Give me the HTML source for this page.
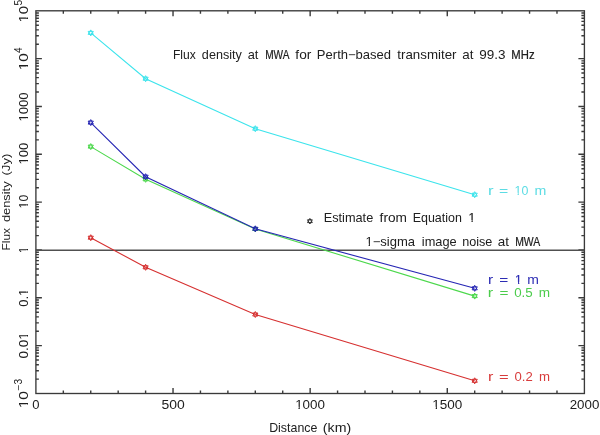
<!DOCTYPE html><html><head><meta charset="utf-8"><style>html,body{margin:0;padding:0;background:#fff;}svg{display:block;will-change:transform;}text{font-family:"Liberation Sans",sans-serif;}</style></head><body>
<svg width="600" height="435" viewBox="0 0 600 435">
<defs><clipPath id="c_e3" clipPathUnits="userSpaceOnUse"><path clip-rule="evenodd" d="M-2000 -2000H3000V3000H-2000ZM468.22 220.00H471.53V223.50H468.22ZM472.72 220.00H475.49V223.50H472.72Z"/></clipPath><clipPath id="c_s0" clipPathUnits="userSpaceOnUse"><path clip-rule="evenodd" d="M-2000 -2000H3000V3000H-2000ZM365.11 243.60H368.65V247.10H365.11ZM369.93 243.60H372.88V247.10H369.93Z"/></clipPath><clipPath id="c_lc2" clipPathUnits="userSpaceOnUse"><path clip-rule="evenodd" d="M-2000 -2000H3000V3000H-2000ZM514.24 192.80H517.61V196.30H514.24ZM518.82 192.80H521.64V196.30H518.82Z"/></clipPath><clipPath id="c_lb2" clipPathUnits="userSpaceOnUse"><path clip-rule="evenodd" d="M-2000 -2000H3000V3000H-2000ZM514.81 281.80H518.07V285.30H514.81ZM519.25 281.80H521.97V285.30H519.25Z"/></clipPath><clipPath id="c_x2" clipPathUnits="userSpaceOnUse"><path clip-rule="evenodd" d="M-2000 -2000H3000V3000H-2000ZM294.83 406.70H298.47V410.20H294.83ZM299.79 406.70H302.83V410.20H299.79Z"/></clipPath><clipPath id="c_x3" clipPathUnits="userSpaceOnUse"><path clip-rule="evenodd" d="M-2000 -2000H3000V3000H-2000ZM432.04 406.70H435.70V410.20H432.04ZM437.03 406.70H440.09V410.20H437.03Z"/></clipPath><clipPath id="c_yl0" clipPathUnits="userSpaceOnUse"><path clip-rule="evenodd" d="M-2000 -2000H3000V3000H-2000ZM-0.36 -2.00H3.68V1.50H-0.36ZM5.15 -2.00H8.53V1.50H5.15Z"/></clipPath><clipPath id="c_yl1" clipPathUnits="userSpaceOnUse"><path clip-rule="evenodd" d="M-2000 -2000H3000V3000H-2000ZM-0.38 -2.00H3.80V1.50H-0.38ZM5.32 -2.00H8.81V1.50H5.32Z"/></clipPath><clipPath id="c_yl2" clipPathUnits="userSpaceOnUse"><path clip-rule="evenodd" d="M-2000 -2000H3000V3000H-2000ZM-0.32 -2.00H3.23V1.50H-0.32ZM4.52 -2.00H7.48V1.50H4.52Z"/></clipPath><clipPath id="c_yl3" clipPathUnits="userSpaceOnUse"><path clip-rule="evenodd" d="M-2000 -2000H3000V3000H-2000ZM-0.32 -2.00H3.23V1.50H-0.32ZM4.52 -2.00H7.48V1.50H4.52Z"/></clipPath><clipPath id="c_yl4" clipPathUnits="userSpaceOnUse"><path clip-rule="evenodd" d="M-2000 -2000H3000V3000H-2000ZM-0.30 -2.00H3.05V1.50H-0.30ZM4.26 -2.00H7.06V1.50H4.26Z"/></clipPath><clipPath id="c_yl5" clipPathUnits="userSpaceOnUse"><path clip-rule="evenodd" d="M-2000 -2000H3000V3000H-2000ZM-0.29 -2.00H2.97V1.50H-0.29ZM4.15 -2.00H6.87V1.50H4.15Z"/></clipPath><clipPath id="c_yl6" clipPathUnits="userSpaceOnUse"><path clip-rule="evenodd" d="M-2000 -2000H3000V3000H-2000ZM10.53 -2.00H14.06V1.50H10.53ZM15.34 -2.00H18.30V1.50H15.34Z"/></clipPath><clipPath id="c_yl7" clipPathUnits="userSpaceOnUse"><path clip-rule="evenodd" d="M-2000 -2000H3000V3000H-2000ZM18.35 -2.00H22.00V1.50H18.35ZM23.32 -2.00H26.37V1.50H23.32Z"/></clipPath><clipPath id="c_yl8" clipPathUnits="userSpaceOnUse"><path clip-rule="evenodd" d="M-2000 -2000H3000V3000H-2000ZM-0.38 -2.00H3.84V1.50H-0.38ZM5.37 -2.00H8.91V1.50H5.37Z"/></clipPath></defs><rect width="600" height="435" fill="#fff"/>
<path d="M63.33 393.50v-3.0M63.33 10.80v3.0M90.75 393.50v-3.0M90.75 10.80v3.0M118.18 393.50v-3.0M118.18 10.80v3.0M145.60 393.50v-3.0M145.60 10.80v3.0M173.03 393.50v-5.5M173.03 10.80v5.5M200.45 393.50v-3.0M200.45 10.80v3.0M227.88 393.50v-3.0M227.88 10.80v3.0M255.30 393.50v-3.0M255.30 10.80v3.0M282.72 393.50v-3.0M282.72 10.80v3.0M310.15 393.50v-5.5M310.15 10.80v5.5M337.57 393.50v-3.0M337.57 10.80v3.0M365.00 393.50v-3.0M365.00 10.80v3.0M392.42 393.50v-3.0M392.42 10.80v3.0M419.85 393.50v-3.0M419.85 10.80v3.0M447.27 393.50v-5.5M447.27 10.80v5.5M474.70 393.50v-3.0M474.70 10.80v3.0M502.12 393.50v-3.0M502.12 10.80v3.0M529.55 393.50v-3.0M529.55 10.80v3.0M556.98 393.50v-3.0M556.98 10.80v3.0M35.90 379.10h3.0M584.40 379.10h-3.0M35.90 370.68h3.0M584.40 370.68h-3.0M35.90 364.70h3.0M584.40 364.70h-3.0M35.90 360.06h3.0M584.40 360.06h-3.0M35.90 356.28h3.0M584.40 356.28h-3.0M35.90 353.07h3.0M584.40 353.07h-3.0M35.90 350.30h3.0M584.40 350.30h-3.0M35.90 347.85h3.0M584.40 347.85h-3.0M35.90 345.66h6.0M584.40 345.66h-6.0M35.90 331.26h3.0M584.40 331.26h-3.0M35.90 322.84h3.0M584.40 322.84h-3.0M35.90 316.86h3.0M584.40 316.86h-3.0M35.90 312.23h3.0M584.40 312.23h-3.0M35.90 308.44h3.0M584.40 308.44h-3.0M35.90 305.24h3.0M584.40 305.24h-3.0M35.90 302.46h3.0M584.40 302.46h-3.0M35.90 300.01h3.0M584.40 300.01h-3.0M35.90 297.82h6.0M584.40 297.82h-6.0M35.90 283.42h3.0M584.40 283.42h-3.0M35.90 275.00h3.0M584.40 275.00h-3.0M35.90 269.02h3.0M584.40 269.02h-3.0M35.90 264.39h3.0M584.40 264.39h-3.0M35.90 260.60h3.0M584.40 260.60h-3.0M35.90 257.40h3.0M584.40 257.40h-3.0M35.90 254.62h3.0M584.40 254.62h-3.0M35.90 252.18h3.0M584.40 252.18h-3.0M35.90 249.99h6.0M584.40 249.99h-6.0M35.90 235.59h3.0M584.40 235.59h-3.0M35.90 227.16h3.0M584.40 227.16h-3.0M35.90 221.19h3.0M584.40 221.19h-3.0M35.90 216.55h3.0M584.40 216.55h-3.0M35.90 212.76h3.0M584.40 212.76h-3.0M35.90 209.56h3.0M584.40 209.56h-3.0M35.90 206.79h3.0M584.40 206.79h-3.0M35.90 204.34h3.0M584.40 204.34h-3.0M35.90 202.15h6.0M584.40 202.15h-6.0M35.90 187.75h3.0M584.40 187.75h-3.0M35.90 179.33h3.0M584.40 179.33h-3.0M35.90 173.35h3.0M584.40 173.35h-3.0M35.90 168.71h3.0M584.40 168.71h-3.0M35.90 164.93h3.0M584.40 164.93h-3.0M35.90 161.72h3.0M584.40 161.72h-3.0M35.90 158.95h3.0M584.40 158.95h-3.0M35.90 156.50h3.0M584.40 156.50h-3.0M35.90 154.31h6.0M584.40 154.31h-6.0M35.90 139.91h3.0M584.40 139.91h-3.0M35.90 131.49h3.0M584.40 131.49h-3.0M35.90 125.51h3.0M584.40 125.51h-3.0M35.90 120.88h3.0M584.40 120.88h-3.0M35.90 117.09h3.0M584.40 117.09h-3.0M35.90 113.89h3.0M584.40 113.89h-3.0M35.90 111.11h3.0M584.40 111.11h-3.0M35.90 108.66h3.0M584.40 108.66h-3.0M35.90 106.48h6.0M584.40 106.48h-6.0M35.90 92.07h3.0M584.40 92.07h-3.0M35.90 83.65h3.0M584.40 83.65h-3.0M35.90 77.67h3.0M584.40 77.67h-3.0M35.90 73.04h3.0M584.40 73.04h-3.0M35.90 69.25h3.0M584.40 69.25h-3.0M35.90 66.05h3.0M584.40 66.05h-3.0M35.90 63.27h3.0M584.40 63.27h-3.0M35.90 60.83h3.0M584.40 60.83h-3.0M35.90 58.64h6.0M584.40 58.64h-6.0M35.90 44.24h3.0M584.40 44.24h-3.0M35.90 35.81h3.0M584.40 35.81h-3.0M35.90 29.84h3.0M584.40 29.84h-3.0M35.90 25.20h3.0M584.40 25.20h-3.0M35.90 21.41h3.0M584.40 21.41h-3.0M35.90 18.21h3.0M584.40 18.21h-3.0M35.90 15.44h3.0M584.40 15.44h-3.0M35.90 12.99h3.0M584.40 12.99h-3.0" stroke="#3a3a3a" stroke-width="1.4" fill="none"/>
<rect x="35.9" y="10.8" width="548.50" height="382.70" stroke="#3a3a3a" stroke-width="1.35" fill="none"/>
<path d="M35.9 250.35H584.4" stroke="#505050" stroke-width="1.5"/>
<polyline points="90.75,32.90 145.60,78.70 255.30,128.70 474.70,194.70" stroke="#3ce4ec" stroke-width="1.1" fill="none"/>
<g stroke="#3ce4ec" stroke-width="1" fill="none"><polygon points="90.75,29.90 93.35,34.40 88.15,34.40"/><polygon points="90.75,35.90 88.15,31.40 93.35,31.40"/><polygon points="145.60,75.70 148.20,80.20 143.00,80.20"/><polygon points="145.60,81.70 143.00,77.20 148.20,77.20"/><polygon points="255.30,125.70 257.90,130.20 252.70,130.20"/><polygon points="255.30,131.70 252.70,127.20 257.90,127.20"/><polygon points="474.70,191.70 477.30,196.20 472.10,196.20"/><polygon points="474.70,197.70 472.10,193.20 477.30,193.20"/></g>
<polyline points="90.75,146.60 145.60,179.30 255.30,229.00 474.70,296.10" stroke="#4cd84c" stroke-width="1.1" fill="none"/>
<g stroke="#4cd84c" stroke-width="1" fill="none"><polygon points="90.75,143.60 93.35,148.10 88.15,148.10"/><polygon points="90.75,149.60 88.15,145.10 93.35,145.10"/><polygon points="145.60,176.30 148.20,180.80 143.00,180.80"/><polygon points="145.60,182.30 143.00,177.80 148.20,177.80"/><polygon points="255.30,226.00 257.90,230.50 252.70,230.50"/><polygon points="255.30,232.00 252.70,227.50 257.90,227.50"/><polygon points="474.70,293.10 477.30,297.60 472.10,297.60"/><polygon points="474.70,299.10 472.10,294.60 477.30,294.60"/></g>
<polyline points="90.75,122.60 145.60,176.70 255.30,228.80 474.70,288.30" stroke="#2626b4" stroke-width="1.1" fill="none"/>
<g stroke="#2626b4" stroke-width="1" fill="none"><polygon points="90.75,119.60 93.35,124.10 88.15,124.10"/><polygon points="90.75,125.60 88.15,121.10 93.35,121.10"/><polygon points="145.60,173.70 148.20,178.20 143.00,178.20"/><polygon points="145.60,179.70 143.00,175.20 148.20,175.20"/><polygon points="255.30,225.80 257.90,230.30 252.70,230.30"/><polygon points="255.30,231.80 252.70,227.30 257.90,227.30"/><polygon points="474.70,285.30 477.30,289.80 472.10,289.80"/><polygon points="474.70,291.30 472.10,286.80 477.30,286.80"/></g>
<polyline points="90.75,237.70 145.60,267.30 255.30,314.50 474.70,380.80" stroke="#d63030" stroke-width="1.1" fill="none"/>
<g stroke="#d63030" stroke-width="1" fill="none"><polygon points="90.75,234.70 93.35,239.20 88.15,239.20"/><polygon points="90.75,240.70 88.15,236.20 93.35,236.20"/><polygon points="145.60,264.30 148.20,268.80 143.00,268.80"/><polygon points="145.60,270.30 143.00,265.80 148.20,265.80"/><polygon points="255.30,311.50 257.90,316.00 252.70,316.00"/><polygon points="255.30,317.50 252.70,313.00 257.90,313.00"/><polygon points="474.70,377.80 477.30,382.30 472.10,382.30"/><polygon points="474.70,383.80 472.10,379.30 477.30,379.30"/></g>
<g stroke="#333" stroke-width="1" fill="none"><polygon points="309.90,218.40 312.32,222.60 307.48,222.60"/><polygon points="309.90,224.00 307.48,219.80 312.32,219.80"/></g>
<text id="w_t0" x="172.90" y="59.2" font-size="12.2" fill="#202020" textLength="22.81" lengthAdjust="spacingAndGlyphs">Flux</text>
<text id="w_t1" x="201.89" y="59.2" font-size="12.2" fill="#202020" textLength="39.95" lengthAdjust="spacingAndGlyphs">density</text>
<text id="w_t2" x="247.70" y="59.2" font-size="12.2" fill="#202020" textLength="10.69" lengthAdjust="spacingAndGlyphs">at</text>
<text id="w_t3" x="265.18" y="59.2" font-size="12.2" fill="#202020" stroke="#202020" stroke-width="0.2" textLength="24.25" lengthAdjust="spacingAndGlyphs">MWA</text>
<text id="w_t4" x="295.39" y="59.2" font-size="12.2" fill="#202020" textLength="15.98" lengthAdjust="spacingAndGlyphs">for</text>
<text id="w_t5" x="316.89" y="59.2" font-size="12.2" fill="#202020" textLength="74.24" lengthAdjust="spacingAndGlyphs">Perth−based</text>
<text id="w_t6" x="397.34" y="59.2" font-size="12.2" fill="#202020" textLength="59.16" lengthAdjust="spacingAndGlyphs">transmiter</text>
<text id="w_t7" x="462.29" y="59.2" font-size="12.2" fill="#202020" textLength="11.18" lengthAdjust="spacingAndGlyphs">at</text>
<text id="w_t8" x="479.31" y="59.2" font-size="12.2" fill="#202020" textLength="26.27" lengthAdjust="spacingAndGlyphs">99.3</text>
<text id="w_t9" x="511.30" y="59.2" font-size="12.2" fill="#202020" stroke="#202020" stroke-width="0.2" textLength="23.26" lengthAdjust="spacingAndGlyphs">MHz</text>
<text id="w_e0" x="323.69" y="222.0" font-size="12.2" fill="#202020" textLength="49.55" lengthAdjust="spacingAndGlyphs">Estimate</text>
<text id="w_e1" x="379.59" y="222.0" font-size="12.2" fill="#202020" textLength="27.36" lengthAdjust="spacingAndGlyphs">from</text>
<text id="w_e2" x="412.73" y="222.0" font-size="12.2" fill="#202020" textLength="49.17" lengthAdjust="spacingAndGlyphs">Equation</text>
<text id="w_e3" clip-path="url(#c_e3)" x="468.52" y="222.0" font-size="12.2" fill="#202020" stroke="#202020" stroke-width="0.2">1</text>
<text id="w_s0" clip-path="url(#c_s0)" x="365.43" y="245.6" font-size="12.2" fill="#202020" textLength="49.64" lengthAdjust="spacingAndGlyphs">1−sigma</text>
<text id="w_s1" x="421.88" y="245.6" font-size="12.2" fill="#202020" textLength="34.85" lengthAdjust="spacingAndGlyphs">image</text>
<text id="w_s2" x="462.22" y="245.6" font-size="12.2" fill="#202020" textLength="30.17" lengthAdjust="spacingAndGlyphs">noise</text>
<text id="w_s3" x="497.89" y="245.6" font-size="12.2" fill="#202020" textLength="11.19" lengthAdjust="spacingAndGlyphs">at</text>
<text id="w_s4" x="515.14" y="245.6" font-size="12.2" fill="#202020" stroke="#202020" stroke-width="0.2" textLength="25.08" lengthAdjust="spacingAndGlyphs">MWA</text>
<text id="w_d0" x="269.18" y="432.3" font-size="12.2" fill="#202020" textLength="48.18" lengthAdjust="spacingAndGlyphs">Distance</text>
<text id="w_d1" x="322.87" y="432.3" font-size="12.2" fill="#202020" textLength="28.31" lengthAdjust="spacingAndGlyphs">(km)</text>
<text id="w_lc0" x="488.06" y="194.8" font-size="12" fill="#5cdce4" textLength="5.57" lengthAdjust="spacingAndGlyphs">r</text>
<text id="w_lc1" x="499.11" y="194.8" font-size="12" fill="#5cdce4" textLength="9.24" lengthAdjust="spacingAndGlyphs">=</text>
<text id="w_lc2" clip-path="url(#c_lc2)" x="514.54" y="194.8" font-size="12" fill="#5cdce4" textLength="13.81" lengthAdjust="spacingAndGlyphs">10</text>
<text id="w_lc3" x="534.43" y="194.8" font-size="12" fill="#5cdce4" textLength="11.84" lengthAdjust="spacingAndGlyphs">m</text>
<text id="w_lb0" x="487.90" y="283.8" font-size="12" fill="#2c2cb4" textLength="5.14" lengthAdjust="spacingAndGlyphs">r</text>
<text id="w_lb1" x="499.32" y="283.8" font-size="12" fill="#2c2cb4" textLength="9.02" lengthAdjust="spacingAndGlyphs">=</text>
<text id="w_lb2" clip-path="url(#c_lb2)" x="515.10" y="283.8" font-size="12" fill="#2c2cb4" stroke="#2c2cb4" stroke-width="0.2">1</text>
<text id="w_lb3" x="527.35" y="283.8" font-size="12" fill="#2c2cb4" textLength="11.62" lengthAdjust="spacingAndGlyphs">m</text>
<text id="w_lg0" x="487.71" y="296.6" font-size="12" fill="#4ccc4c" textLength="5.41" lengthAdjust="spacingAndGlyphs">r</text>
<text id="w_lg1" x="499.45" y="296.6" font-size="12" fill="#4ccc4c" textLength="8.97" lengthAdjust="spacingAndGlyphs">=</text>
<text id="w_lg2" x="514.19" y="296.6" font-size="12" fill="#4ccc4c" textLength="18.54" lengthAdjust="spacingAndGlyphs">0.5</text>
<text id="w_lg3" x="538.71" y="296.6" font-size="12" fill="#4ccc4c" textLength="11.31" lengthAdjust="spacingAndGlyphs">m</text>
<text id="w_lr0" x="487.99" y="381.4" font-size="12" fill="#d83c3c" textLength="5.34" lengthAdjust="spacingAndGlyphs">r</text>
<text id="w_lr1" x="499.03" y="381.4" font-size="12" fill="#d83c3c" textLength="9.68" lengthAdjust="spacingAndGlyphs">=</text>
<text id="w_lr2" x="514.57" y="381.4" font-size="12" fill="#d83c3c" textLength="18.23" lengthAdjust="spacingAndGlyphs">0.2</text>
<text id="w_lr3" x="538.91" y="381.4" font-size="12" fill="#d83c3c" textLength="11.04" lengthAdjust="spacingAndGlyphs">m</text>
<text id="w_y0" transform="translate(10.0 250.60) rotate(-90)" font-size="11.6" fill="#202020" textLength="22.67" lengthAdjust="spacingAndGlyphs">Flux</text>
<text id="w_y1" transform="translate(10.0 222.10) rotate(-90)" font-size="11.6" fill="#202020" textLength="40.66" lengthAdjust="spacingAndGlyphs">density</text>
<text id="w_y2" transform="translate(10.0 175.60) rotate(-90)" font-size="11.6" fill="#202020" textLength="21.97" lengthAdjust="spacingAndGlyphs">(Jy)</text>
<text id="w_x0" x="32.31" y="408.7" font-size="12" fill="#202020" textLength="7.26" lengthAdjust="spacingAndGlyphs">0</text>
<text id="w_x1" x="161.45" y="408.7" font-size="12" fill="#202020" textLength="23.24" lengthAdjust="spacingAndGlyphs">500</text>
<text id="w_x2" clip-path="url(#c_x2)" x="295.16" y="408.7" font-size="12" fill="#202020" textLength="29.82" lengthAdjust="spacingAndGlyphs">1000</text>
<text id="w_x3" clip-path="url(#c_x3)" x="432.37" y="408.7" font-size="12" fill="#202020" textLength="30.01" lengthAdjust="spacingAndGlyphs">1500</text>
<text id="w_x4" x="569.70" y="408.7" font-size="12" fill="#202020" textLength="29.62" lengthAdjust="spacingAndGlyphs">2000</text>
<text id="w_yl0" clip-path="url(#c_yl0)" transform="translate(28.2 22.58) rotate(-90)" font-size="12" fill="#202020" textLength="16.59" lengthAdjust="spacingAndGlyphs">10</text>
<text id="w_yl1" clip-path="url(#c_yl1)" transform="translate(28.2 70.37) rotate(-90)" font-size="12" fill="#202020" textLength="17.13" lengthAdjust="spacingAndGlyphs">10</text>
<text id="w_yl2" clip-path="url(#c_yl2)" transform="translate(28.2 121.48) rotate(-90)" font-size="12" fill="#202020" textLength="29.09" lengthAdjust="spacingAndGlyphs">1000</text>
<text id="w_yl3" clip-path="url(#c_yl3)" transform="translate(28.2 164.59) rotate(-90)" font-size="12" fill="#202020" textLength="21.82" lengthAdjust="spacingAndGlyphs">100</text>
<text id="w_yl4" clip-path="url(#c_yl4)" transform="translate(28.2 208.46) rotate(-90)" font-size="12" fill="#202020" textLength="13.73" lengthAdjust="spacingAndGlyphs">10</text>
<text id="w_yl5" clip-path="url(#c_yl5)" transform="translate(28.2 253.25) rotate(-90)" font-size="12" fill="#202020">1</text>
<text id="w_yl6" clip-path="url(#c_yl6)" transform="translate(28.2 306.75) rotate(-90)" font-size="12" fill="#202020" textLength="18.10" lengthAdjust="spacingAndGlyphs">0.1</text>
<text id="w_yl7" clip-path="url(#c_yl7)" transform="translate(28.2 358.42) rotate(-90)" font-size="12" fill="#202020" textLength="26.17" lengthAdjust="spacingAndGlyphs">0.01</text>
<text id="w_yl8" clip-path="url(#c_yl8)" transform="translate(28.2 408.37) rotate(-90)" font-size="12" fill="#202020" textLength="17.32" lengthAdjust="spacingAndGlyphs">10</text>
<text transform="translate(22.4 5.6) rotate(-90)" font-size="10.2" fill="#202020">5</text>
<text transform="translate(22.4 52.9) rotate(-90)" font-size="10.2" fill="#202020">4</text>
<text transform="translate(22.4 390.4) rotate(-90)" font-size="10.2" fill="#202020">−3</text>
</svg></body></html>
